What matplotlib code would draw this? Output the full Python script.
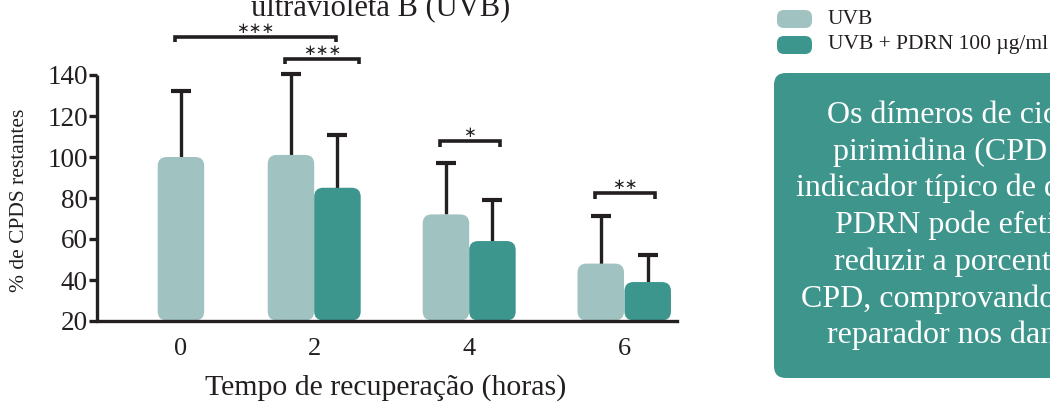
import matplotlib
matplotlib.use("Agg")
import matplotlib.pyplot as plt
from matplotlib.patches import FancyBboxPatch
import numpy as np

# ---- data ----
times = ["0", "2", "4", "6"]
uvb = [100, 101, 72, 48]
uvb_err = [32, 39.5, 25, 23]
pdrn_times = ["2", "4", "6"]
pdrn = [85, 59, 39]
pdrn_err = [25.5, 20, 13]
sig_labels = ["∗∗∗", "∗∗∗", "∗", "∗∗"]
legend_labels = ["UVB", "UVB + PDRN 100 µg/ml"]
title = "ultravioleta B (UVB)"
xlabel = "Tempo de recuperação (horas)"
ylabel = "% de CPDS restantes"
box_lines = ["Os dímeros de cic", "pirimidina (CPD", "indicador típico de d",
             "PDRN pode efeti", "reduzir a porcent", "CPD, comprovando",
             "reparador nos dan"]

# ---- style ----
C_LIGHT = "#a0c2c0"
C_DARK = "#3d968d"
C_INK = "#231f20"
SERIF = ["Liberation Serif", "DejaVu Serif"]
plt.rcParams["font.family"] = SERIF

W, H = 1050, 408
fig = plt.figure(figsize=(W / 100, H / 100), dpi=100)
fig.patch.set_facecolor("white")

ax_l, ax_r, ax_t, ax_b = 97, 677, 75, 321
ax = fig.add_axes([ax_l / W, (H - ax_b) / H, (ax_r - ax_l) / W, (ax_b - ax_t) / H])

# x layout (units of bar width)
uvb_x = [0.0, 2.366, 5.70, 9.03]
pdrn_x = [3.366, 6.70, 10.04]
tick_x = [0.0, 2.866, 6.20, 9.53]
ax.set_xlim(-1.806, 10.67)
ax.set_ylim(20, 140)

px_per_x = (ax_r - ax_l) / (10.67 + 1.806)
px_per_y = (ax_b - ax_t) / 120.0
r_px = 9
rx = r_px / px_per_x
aspect = (r_px / px_per_y) / rx


def rbar(x, v, color):
    p = FancyBboxPatch((x - 0.5, 20.3), 1.0, v - 20.3,
                       boxstyle=f"round,pad=0,rounding_size={rx}",
                       mutation_aspect=aspect, fc=color, ec="none", zorder=2)
    ax.add_patch(p)


for x, v in zip(uvb_x, uvb):
    rbar(x, v, C_LIGHT)
for x, v in zip(pdrn_x, pdrn):
    rbar(x, v, C_DARK)

# upward-only error bars
for xs, vs, es in [(uvb_x, uvb, uvb_err), (pdrn_x, pdrn, pdrn_err)]:
    tops = np.array(vs) + np.array(es)
    ax.vlines(xs, vs, tops, color=C_INK, lw=2.4, zorder=1)
    ax.plot(xs, tops, ls="none", marker="_", ms=15, mew=3.0, color=C_INK,
            zorder=1, clip_on=False)

# significance brackets
brackets = [
    (uvb_x[0] - 0.13, pdrn_x[0] - 0.03, 158.6),
    (uvb_x[1] - 0.13, pdrn_x[0] + 0.47, 147.8),
    (uvb_x[2] - 0.13, pdrn_x[1] + 0.16, 107.7),
    (uvb_x[3] - 0.13, pdrn_x[2] + 0.15, 82.2),
]
drop = 2.6
for (x1, x2, y), lab in zip(brackets, sig_labels):
    ax.plot([x1, x1, x2, x2], [y - drop, y, y, y - drop], color=C_INK,
            lw=2.6, solid_capstyle="butt", solid_joinstyle="miter",
            clip_on=False, zorder=3)
    ax.text((x1 + x2) / 2, y + 0.6, lab, ha="center", va="bottom",
            fontsize=11, family=["DejaVu Sans"], color=C_INK, clip_on=False)

# axes styling
for s in ["top", "right"]:
    ax.spines[s].set_visible(False)
for s in ["left", "bottom"]:
    ax.spines[s].set_linewidth(2.4)
    ax.spines[s].set_color(C_INK)
ax.spines["left"].set_capstyle("butt")
ax.set_yticks([20, 40, 60, 80, 100, 120, 140])
ax.tick_params(axis="y", length=6, width=2.4, color=C_INK, pad=0.5,
               labelsize=19.5, labelcolor=C_INK)
ax.set_xticks(tick_x)
ax.set_xticklabels(times)
ax.tick_params(axis="x", length=0, pad=12, labelsize=19, labelcolor=C_INK)
ax.set_xlabel(xlabel, fontsize=21.5, color=C_INK)
ax.xaxis.set_label_coords(0.498, -0.215)
ax.set_ylabel(ylabel, fontsize=15.5, color=C_INK)
ax.yaxis.set_label_coords(-0.118, 0.49)
ax.patch.set_visible(False)

# ---- overlay in pixel coords ----
ov = fig.add_axes([0, 0, 1, 1], zorder=-1)
ov.set_xlim(0, W)
ov.set_ylim(H, 0)
ov.axis("off")

ov.text(381, 15.5, title, ha="center", va="baseline", fontsize=22, color=C_INK)

# legend
for i, (lab, col) in enumerate(zip(legend_labels, [C_LIGHT, C_DARK])):
    y0 = 10 + i * 26
    ov.add_patch(FancyBboxPatch((777, y0), 35, 18,
                                boxstyle="round,pad=0,rounding_size=7",
                                fc=col, ec="none"))
    ov.text(828, y0 + 9, lab, ha="left", va="center", fontsize=15.5, color=C_INK)

# info box
ov.add_patch(FancyBboxPatch((774, 73), 400, 305,
                            boxstyle="round,pad=0,rounding_size=12",
                            fc="#3d958c", ec="none"))
starts = [827, 833, 796, 835, 834, 801, 827]
for i, (line, sx) in enumerate(zip(box_lines, starts)):
    ov.text(sx, 123 + i * 36.7, line, ha="left", va="baseline",
            fontsize=23, color="white")

fig.savefig("out.png", dpi=100)
